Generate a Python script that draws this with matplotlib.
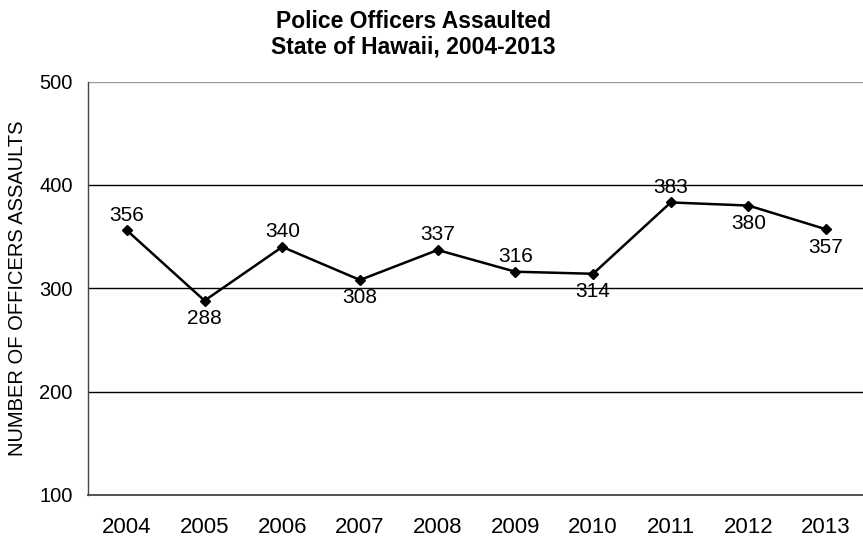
import matplotlib
matplotlib.use("Agg")
import matplotlib.pyplot as plt

years = ["2004", "2005", "2006", "2007", "2008", "2009", "2010", "2011", "2012", "2013"]
assaults = [356, 288, 340, 308, 337, 316, 314, 383, 380, 357]
label_above = [True, False, True, False, True, True, False, True, False, False]
yticks = [100, 200, 300, 400, 500]

plt.rcParams['font.family'] = ['Liberation Sans', 'DejaVu Sans']

fig = plt.figure(figsize=(8.63, 5.41), dpi=100)
ax = fig.add_axes([88/863, 46/541, 777/863, 413.5/541])

x = list(range(len(years)))
ax.plot(x, assaults, color='black', lw=1.8, marker='D', markersize=5.5, zorder=3, clip_on=False)

for xi, v, up in zip(x, assaults, label_above):
    if up:
        ax.annotate(str(v), (xi, v), xytext=(0, 4), textcoords='offset points',
                    ha='center', va='bottom', fontsize=15)
    else:
        ax.annotate(str(v), (xi, v), xytext=(0, -6), textcoords='offset points',
                    ha='center', va='top', fontsize=15)

ax.set_ylim(100, 500)
ax.set_xlim(-0.5, 9.5)
ax.set_yticks(yticks)
ax.set_yticklabels([str(t) for t in yticks], fontsize=14.5)
ax.set_xticks(x)
ax.set_xticklabels(years, fontsize=16)
ax.tick_params(axis='x', length=0, pad=16)
ax.tick_params(axis='y', length=0, pad=11)

for t in yticks[1:-1]:
    ax.axhline(t, color='black', lw=1.0, zorder=1)
ax.axhline(500, color='#999999', lw=1.0, zorder=1)

for s in ['top', 'right']:
    ax.spines[s].set_visible(False)
ax.spines['left'].set_color('#444444')
ax.spines['bottom'].set_color('#444444')
ax.spines['left'].set_linewidth(1.0)
ax.spines['bottom'].set_linewidth(1.3)

fig.text(18/863, 1 - 288/541, "NUMBER OF OFFICERS ASSAULTS", rotation=90,
         ha='center', va='center', fontsize=14.5)
fig.text(413/863, 1 - 21/541, "Police Officers Assaulted", ha='center', va='center',
         fontsize=16.5, fontweight='bold')
fig.text(413/863, 1 - 47/541, "State of Hawaii, 2004-2013", ha='center', va='center',
         fontsize=16.5, fontweight='bold')

fig.savefig("out.png", dpi=100)
